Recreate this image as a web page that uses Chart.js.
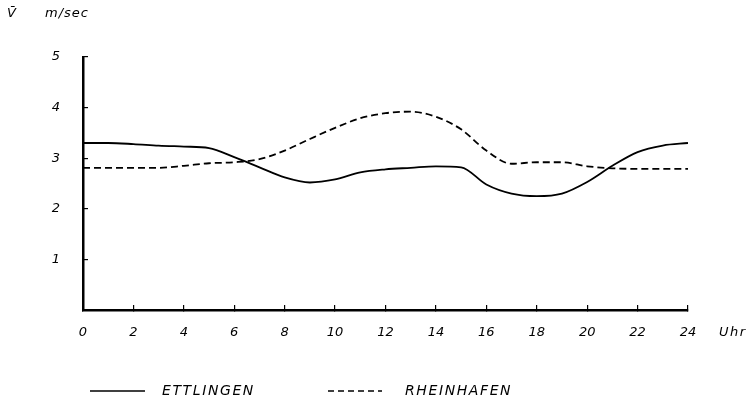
<!DOCTYPE html>
<html>
<head>
<meta charset="utf-8">
<script src="https://cdn.jsdelivr.net/npm/chart.js@4.4.0/dist/chart.umd.min.js"></script>
<style>
  html, body { margin: 0; padding: 0; background: #fff; }
  #box { width: 756px; height: 401px; }
</style>
</head>
<body>
<div id="box"><canvas id="grafico"></canvas></div>
<script>
// horas do dia
const horas = [0, 1, 2, 3, 4, 5, 6, 7, 8, 9, 10, 11, 12, 13, 14, 15, 16, 17, 18, 19, 20, 21, 22, 23, 24];
// velocidade media (m/sec)
const ettlingen = [3.30, 3.30, 3.28, 3.25, 3.23, 3.20, 3.02, 2.82, 2.62, 2.52, 2.58, 2.72, 2.78, 2.81, 2.84, 2.82, 2.48, 2.30, 2.25, 2.30, 2.53, 2.85, 3.12, 3.25, 3.30];
const rheinhafen = [2.81, 2.81, 2.81, 2.81, 2.85, 2.90, 2.92, 2.98, 3.15, 3.38, 3.60, 3.79, 3.89, 3.92, 3.82, 3.57, 3.15, 2.89, 2.92, 2.92, 2.84, 2.80, 2.79, 2.79, 2.79];
const nomes = ['ETTLINGEN', 'RHEINHAFEN'];
const ticksX = [0, 2, 4, 6, 8, 10, 12, 14, 16, 18, 20, 22, 24];
const ticksY = [1, 2, 3, 4, 5];

const fonte = "italic 13px 'DejaVu Sans'";

function pontos(valores) {
    return horas.map((h, i) => ({ x: h, y: valores[i] }));
}

// textos soltos: V, m/sec, Uhr e a legenda
const textosExtras = {
    id: 'textosExtras',
    afterDraw(chart) {
        const ctx = chart.ctx;
        const area = chart.chartArea;
        ctx.save();
        ctx.fillStyle = '#000';
        ctx.font = fonte;
        ctx.textBaseline = 'middle';
        ctx.textAlign = 'left';
        ctx.fillText('V\u0304', 7, 14);
        ctx.letterSpacing = '1px';
        ctx.fillText('m/sec', 45, 14);
        ctx.letterSpacing = '1.5px';
        ctx.fillText('Uhr', area.right + 31, 333);

        // legenda
        const itens = [
            { x0: 90, x1: 145, tx: 162 },
            { x0: 328, x1: 382, tx: 405 }
        ];
        ctx.font = "italic 14px 'DejaVu Sans'";
        chart.data.datasets.forEach((ds, i) => {
            const it = itens[i];
            ctx.beginPath();
            ctx.lineWidth = 1.6;
            ctx.strokeStyle = '#000';
            ctx.setLineDash(i === 1 ? [6, 4] : []);
            ctx.moveTo(it.x0, 391);
            ctx.lineTo(it.x1, 391);
            ctx.stroke();
            ctx.setLineDash([]);
            ctx.letterSpacing = '1.6px';
            ctx.fillText(ds.label, it.tx, 391);
        });
        ctx.restore();
    }
};

const grafico = new Chart(document.getElementById('grafico'), {
    type: 'line',
    data: {
        datasets: [
            {
                label: nomes[0],
                data: pontos(ettlingen),
                borderColor: '#000',
                borderWidth: 1.8,
                pointRadius: 0,
                cubicInterpolationMode: 'monotone',
                fill: false
            },
            {
                label: nomes[1],
                data: pontos(rheinhafen),
                borderColor: '#000',
                borderWidth: 1.8,
                borderDash: [7, 4],
                pointRadius: 0,
                cubicInterpolationMode: 'monotone',
                fill: false
            }
        ]
    },
    options: {
        responsive: true,
        maintainAspectRatio: false,
        animation: false,
        layout: {
            padding: { left: 0, right: 68, top: 57, bottom: 0 }
        },
        plugins: {
            legend: { display: false },
            tooltip: { enabled: false }
        },
        scales: {
            x: {
                type: 'linear',
                min: 0,
                max: 24,
                afterFit: (s) => { s.height = 91; },
                afterBuildTicks: (s) => { s.ticks = ticksX.map(v => ({ value: v })); },
                border: { display: true, color: '#000', width: 2.5 },
                grid: { drawOnChartArea: false, drawTicks: true, tickLength: -5, color: '#000', lineWidth: 1.2 },
                ticks: { color: '#000', font: { family: 'DejaVu Sans', style: 'italic', size: 13 }, padding: 20, maxRotation: 0 }
            },
            y: {
                min: 0,
                max: 5,
                afterFit: (s) => { s.width = 83; },
                afterBuildTicks: (s) => { s.ticks = ticksY.map(v => ({ value: v })); },
                border: { display: true, color: '#000', width: 2.5 },
                grid: { drawOnChartArea: false, drawTicks: true, tickLength: -5, color: '#000', lineWidth: 1.2 },
                ticks: { color: '#000', font: { family: 'DejaVu Sans', style: 'italic', size: 13 }, padding: 28 }
            }
        }
    },
    plugins: [textosExtras]
});
</script>
</body>
</html>
